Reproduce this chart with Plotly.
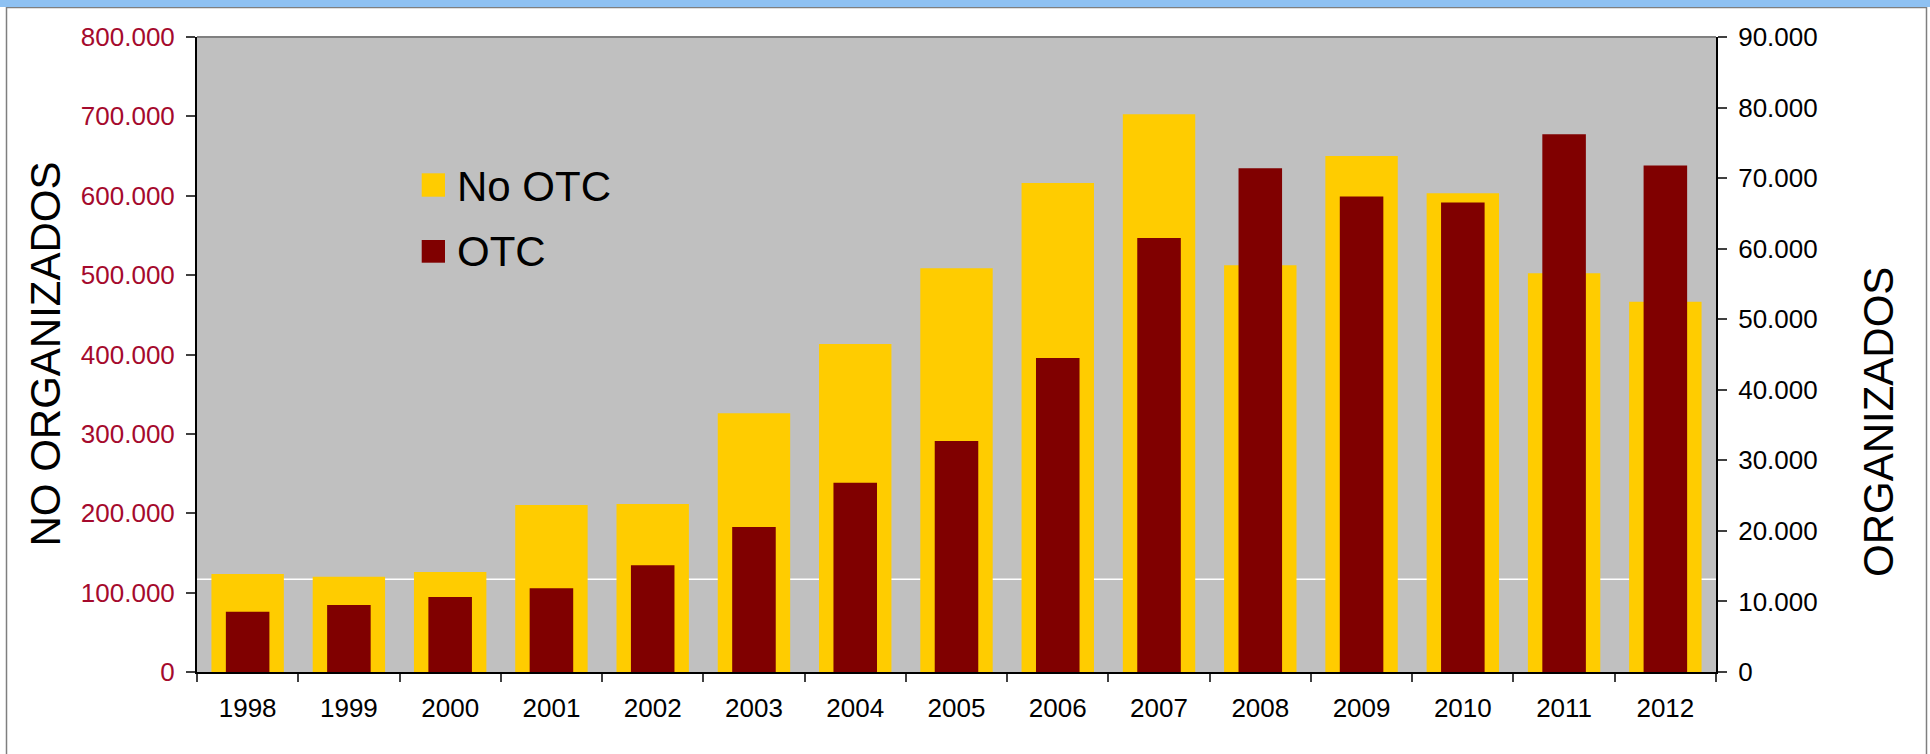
import plotly.graph_objects as go

years = ["1998", "1999", "2000", "2001", "2002", "2003", "2004", "2005",
         "2006", "2007", "2008", "2009", "2010", "2011", "2012"]
no_otc = [123500, 120100, 126000, 210400, 211600, 325900, 413200, 508600,
          616100, 702600, 512300, 650100, 603000, 502300, 466500]
otc = [8550, 9500, 10630, 11860, 15120, 20550, 26840, 32740,
       44500, 61500, 71400, 67400, 66550, 76200, 71800]
ref_line = 117000

left_ticks = [0, 100000, 200000, 300000, 400000, 500000, 600000, 700000, 800000]
right_ticks = [0, 10000, 20000, 30000, 40000, 50000, 60000, 70000, 80000, 90000]

FONT = "Liberation Sans, Arial, sans-serif"
YELLOW = "#FFCC00"
DARKRED = "#800000"
LABELRED = "#A50A2D"

fig = go.Figure()
fig.add_trace(go.Bar(x=years, y=no_otc, name="No OTC", marker_color=YELLOW,
                     marker_line_width=0,
                     width=0.715, yaxis="y", showlegend=False))
fig.add_trace(go.Bar(x=years, y=otc, name="OTC", marker_color=DARKRED,
                     marker_line_width=0,
                     width=0.43, yaxis="y2", showlegend=False))

W, H = 1930, 754
L, R, T, B = 197, 214, 37, 82
pw, ph = W - L - R, H - T - B

def px(x):
    return (x - L) / pw

def py(y):
    return (H - B - y) / ph

shapes = [
    dict(type="line", xref="paper", yref="y", x0=0, x1=1, y0=ref_line, y1=ref_line,
         line=dict(color="white", width=1.5), layer="below"),
    dict(type="line", xref="paper", yref="paper", x0=0, x1=1, y0=1, y1=1,
         line=dict(color="#808080", width=2)),
    dict(type="rect", xref="paper", yref="paper", x0=px(6.5), x1=px(1926.5),
         y0=py(800), y1=py(7.5), line=dict(color="#7F7F7F", width=1.5),
         fillcolor="rgba(0,0,0,0)", layer="below"),
    dict(type="rect", xref="paper", yref="paper", x0=px(-5), x1=px(1940),
         y0=py(7), y1=py(-2), line=dict(width=0), fillcolor="#8EC1F2", layer="below"),
    dict(type="rect", xref="paper", yref="paper", x0=px(421.7), x1=px(445),
         y0=py(196.7), y1=py(173.3), line=dict(width=0), fillcolor=YELLOW),
    dict(type="rect", xref="paper", yref="paper", x0=px(421.7), x1=px(445),
         y0=py(262.7), y1=py(240), line=dict(width=0), fillcolor=DARKRED),
]

annotations = [
    dict(text="No OTC", xref="paper", yref="paper", x=px(455), y=py(186),
         xanchor="left", yanchor="middle", showarrow=False,
         font=dict(family=FONT, size=42, color="black")),
    dict(text="OTC", xref="paper", yref="paper", x=px(455), y=py(252),
         xanchor="left", yanchor="middle", showarrow=False,
         font=dict(family=FONT, size=42, color="black")),
    dict(text="NO ORGANIZADOS", xref="paper", yref="paper", x=px(44.5), y=py(354),
         xanchor="center", yanchor="middle", textangle=-90, showarrow=False,
         font=dict(family=FONT, size=42, color="black")),
    dict(text="ORGANIZADOS", xref="paper", yref="paper", x=px(1878), y=py(422),
         xanchor="center", yanchor="middle", textangle=-90, showarrow=False,
         font=dict(family=FONT, size=42, color="black")),
]

fig.update_layout(
    width=W, height=H,
    margin=dict(l=L, r=R, t=T, b=B, pad=0),
    paper_bgcolor="white",
    plot_bgcolor="#C0C0C0",
    barmode="overlay",
    separators=",.",
    showlegend=False,
    font=dict(family=FONT, color="black"),
    xaxis=dict(
        type="category", tickson="boundaries", ticks="outside", ticklen=8,
        tickcolor="#404040", tickwidth=1.5, showline=True, linecolor="black",
        linewidth=2, showgrid=False, tickfont=dict(family=FONT, size=26, color="black"),
        range=[-0.5, 14.5], fixedrange=True, ticklabelstandoff=12,
    ),
    yaxis=dict(
        range=[0, 800000], tickvals=left_ticks, tickformat=",.0f",
        ticks="outside", ticklen=9, tickcolor="#404040", tickwidth=1.5,
        showline=True, linecolor="black", linewidth=2, showgrid=False, zeroline=False,
        tickfont=dict(family=FONT, size=26, color=LABELRED), ticklabelstandoff=6,
    ),
    yaxis2=dict(
        range=[0, 90000], tickvals=right_ticks, tickformat=",.0f",
        overlaying="y", side="right",
        ticks="outside", ticklen=9, tickcolor="#404040", tickwidth=1.5,
        showline=True, linecolor="black", linewidth=2, showgrid=False, zeroline=False,
        tickfont=dict(family=FONT, size=26, color="black"), ticklabelstandoff=6,
    ),
    shapes=shapes,
    annotations=annotations,
)

fig.write_html("out.html")
